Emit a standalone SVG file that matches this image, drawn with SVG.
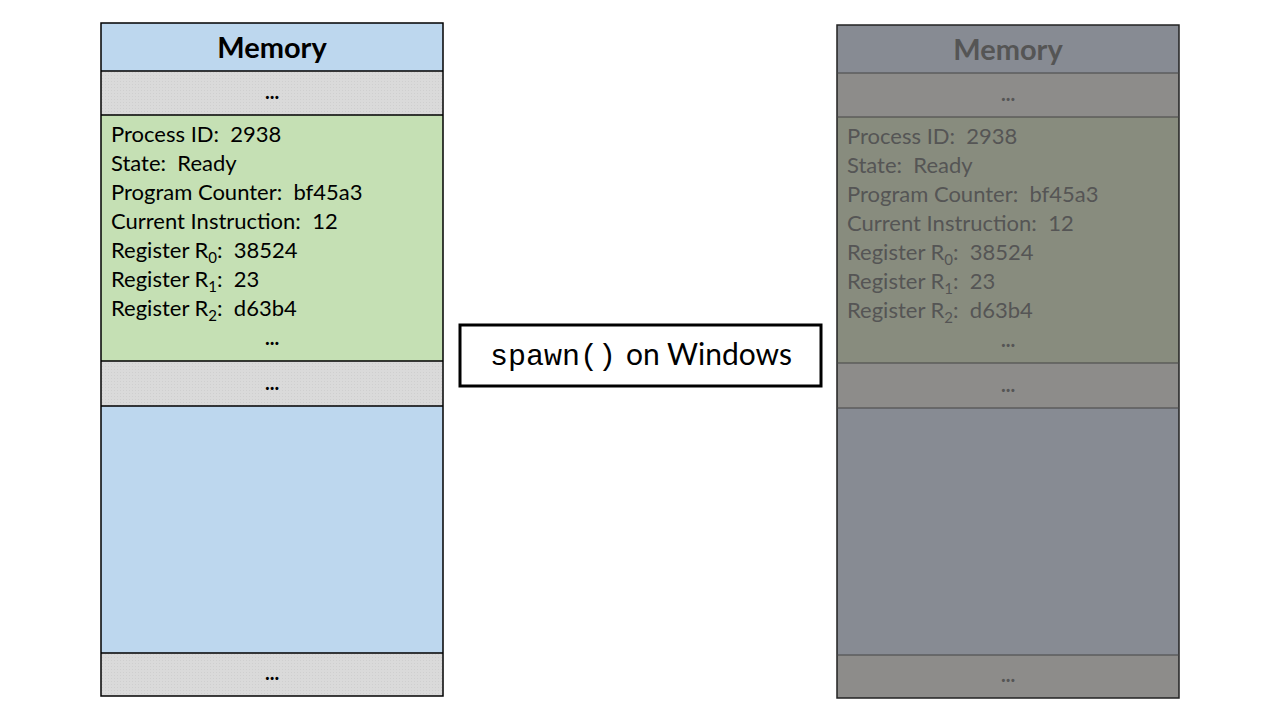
<svg xmlns="http://www.w3.org/2000/svg" width="1280" height="720" viewBox="0 0 1280 720">
<defs>
<pattern id="dots" width="3" height="3" patternUnits="userSpaceOnUse">
<rect width="3" height="3" fill="#dadada"/>
<rect width="1" height="1" fill="#cfcfcf"/>
</pattern>
<style>
text{white-space:pre}
.t{font-family:Lato,"Open Sans","Liberation Sans",sans-serif;font-size:22px;fill:#000}
.ttl{font-family:Lato,"Open Sans","Liberation Sans",sans-serif;font-size:29px;font-weight:bold;text-anchor:middle}
.dots{font-family:Lato,"Liberation Sans",sans-serif;font-size:20px;font-weight:bold;text-anchor:middle}
.ln{stroke:#000;stroke-width:1.5}
.dim .t,.dim .dots,.dim .ttl{fill:#555}
.dim .ln{stroke:#444;stroke-width:1}
</style>
</defs>
<rect width="1280" height="720" fill="#fff"/>
<g id="memory-left">
<rect x="101" y="23" width="342" height="48" fill="#bdd7ee"/>
<rect x="101" y="71" width="342" height="44" fill="url(#dots)"/>
<rect x="101" y="115" width="342" height="246" fill="#c5e0b4"/>
<rect x="101" y="361" width="342" height="45" fill="url(#dots)"/>
<rect x="101" y="406" width="342" height="247" fill="#bdd7ee"/>
<rect x="101" y="653" width="342" height="43" fill="url(#dots)"/>
<rect x="101" y="23" width="342" height="673" fill="none" class="ln"/>
<path class="ln" d="M101 71H443M101 115H443M101 361H443M101 406H443M101 653H443"/>
<text class="ttl" x="272" y="58">Memory</text>
<text class="dots" x="272" y="99">...</text>
<text class="t" x="111" y="142">Process ID:  2938</text>
<text class="t" x="111" y="171">State:  Ready</text>
<text class="t" x="111" y="200">Program Counter:  bf45a3</text>
<text class="t" x="111" y="229">Current Instruction:  12</text>
<text class="t" x="111" y="258">Register R<tspan font-size="15" dy="5">0</tspan><tspan dy="-5">:  38524</tspan></text>
<text class="t" x="111" y="287">Register R<tspan font-size="15" dy="5">1</tspan><tspan dy="-5">:  23</tspan></text>
<text class="t" x="111" y="316">Register R<tspan font-size="15" dy="5">2</tspan><tspan dy="-5">:  d63b4</tspan></text>
<text class="dots" x="272" y="345">...</text>
<text class="dots" x="272" y="390">...</text>
<text class="dots" x="272" y="680">...</text>
</g>
<g id="spawn-label">
<rect x="460" y="325" width="361" height="61" fill="#fff" stroke="#000" stroke-width="3"/>
<text x="490" y="365" style="font-size:30px"><tspan font-family="'Liberation Mono',monospace" font-size="30">spawn()</tspan><tspan font-family="Lato,'Open Sans',sans-serif" dx="10">on Windows</tspan></text>
</g>
<g id="memory-right" class="dim">
<rect x="837" y="25" width="342" height="48" fill="#878b93"/>
<rect x="837" y="73" width="342" height="44" fill="#8d8c8a"/>
<rect x="837" y="117" width="342" height="246" fill="#888c7e"/>
<rect x="837" y="363" width="342" height="45" fill="#8d8c8a"/>
<rect x="837" y="408" width="342" height="247" fill="#878b93"/>
<rect x="837" y="655" width="342" height="43" fill="#8d8c8a"/>
<rect x="837" y="25" width="342" height="673" fill="none" stroke="#222" stroke-width="1.5"/>
<path class="ln" d="M837 73H1179M837 117H1179M837 363H1179M837 408H1179M837 655H1179"/>
<text class="ttl" x="1008" y="60">Memory</text>
<text class="dots" x="1008" y="101">...</text>
<text class="t" x="847" y="144">Process ID:  2938</text>
<text class="t" x="847" y="173">State:  Ready</text>
<text class="t" x="847" y="202">Program Counter:  bf45a3</text>
<text class="t" x="847" y="231">Current Instruction:  12</text>
<text class="t" x="847" y="260">Register R<tspan font-size="15" dy="5">0</tspan><tspan dy="-5">:  38524</tspan></text>
<text class="t" x="847" y="289">Register R<tspan font-size="15" dy="5">1</tspan><tspan dy="-5">:  23</tspan></text>
<text class="t" x="847" y="318">Register R<tspan font-size="15" dy="5">2</tspan><tspan dy="-5">:  d63b4</tspan></text>
<text class="dots" x="1008" y="347">...</text>
<text class="dots" x="1008" y="392">...</text>
<text class="dots" x="1008" y="682">...</text>
</g>
</svg>
